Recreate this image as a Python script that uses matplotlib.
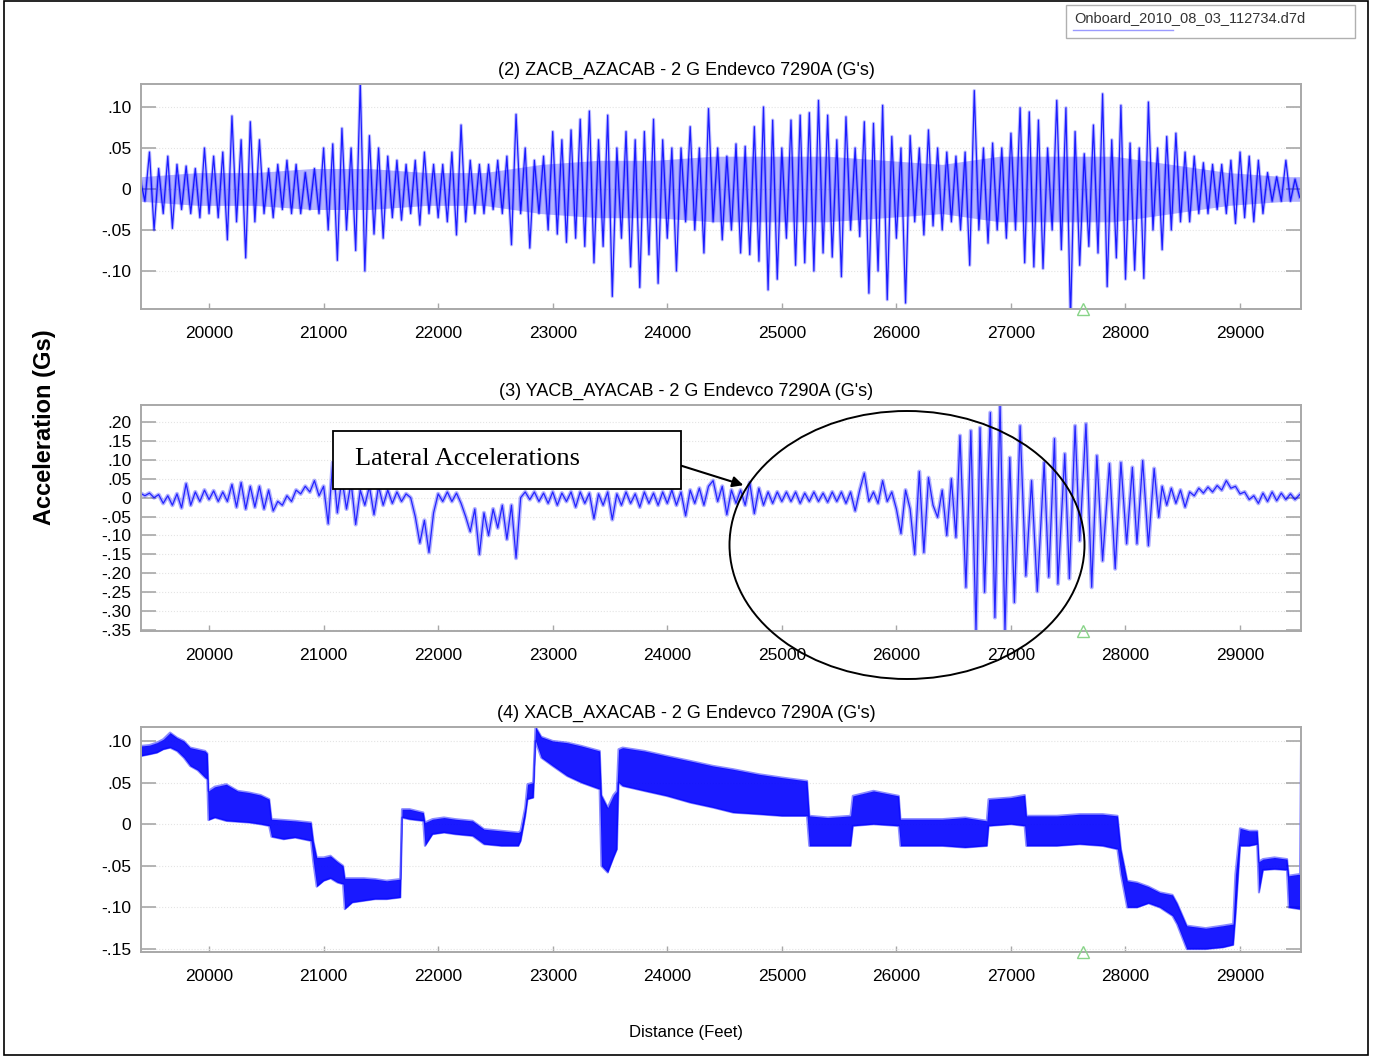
import numpy as np
import matplotlib.pyplot as plt
from matplotlib.patches import Rectangle, Ellipse
from matplotlib.lines import Line2D
from matplotlib.ticker import FuncFormatter
import matplotlib.transforms as mtransforms

plt.rcParams['font.family'] = ['Liberation Sans', 'DejaVu Sans']

# ---- data ----
dist_ticks = [20000, 21000, 22000, 23000, 24000, 25000, 26000, 27000, 28000, 29000]
x_lim = (19406, 29532)
marker_ft = 27630
legend_name = 'Onboard_2010_08_03_112734.d7d'

titles = ["(2) ZACB_AZACAB - 2 G Endevco 7290A (G's)",
          "(3) YACB_AYACAB - 2 G Endevco 7290A (G's)",
          "(4) XACB_AXACAB - 2 G Endevco 7290A (G's)"]

# (2) vertical: peaks every 40 ft starting at 19400
z_start, z_step = 19400, 40
z_g = [
    0.012, -0.015, 0.045, -0.05, 0.025, -0.03, 0.04, -0.048, 0.03, -0.025, 0.028, -0.03, 0.025,
    -0.035, 0.05, -0.03, 0.04, -0.035, 0.045, -0.062, 0.089, -0.04, 0.06, -0.084, 0.082,
    -0.04, 0.06, -0.03, 0.025, -0.035, 0.03, -0.025, 0.035, -0.03, 0.03, -0.03, 0.02, -0.025,
    0.025, -0.03, 0.05, -0.05, 0.055, -0.087, 0.074, -0.05, 0.05, -0.075, 0.13, -0.10,
    0.065, -0.055, 0.05, -0.06, 0.04, -0.035, 0.035, -0.038, 0.03, -0.03, 0.035, -0.044, 0.045,
    -0.03, 0.03, -0.035, 0.03, -0.04, 0.045, -0.056, 0.078, -0.04, 0.035, -0.03, 0.03,
    -0.03, 0.03, -0.025, 0.035, -0.03, 0.04, -0.068, 0.091, -0.03, 0.05, -0.072, 0.035, -0.03,
    0.04, -0.05, 0.07, -0.055, 0.06, -0.065, 0.072, -0.06, 0.085, -0.07, 0.095, -0.09,
    0.06, -0.07, 0.09, -0.131, 0.05, -0.06, 0.07, -0.095, 0.06, -0.12, 0.07, -0.08, 0.085,
    -0.115, 0.06, -0.06, 0.05, -0.1, 0.05, -0.04, 0.076, -0.05, 0.05, -0.078, 0.098,
    -0.04, 0.05, -0.062, 0.04, -0.05, 0.055, -0.078, 0.052, -0.08, 0.076, -0.088, 0.10, -0.123,
    0.084, -0.11, 0.05, -0.06, 0.084, -0.093, 0.09, -0.09, 0.093, -0.1, 0.108, -0.078,
    0.09, -0.083, 0.06, -0.107, 0.088, -0.05, 0.05, -0.058, 0.082, -0.127, 0.08, -0.1, 0.102,
    -0.135, 0.064, -0.06, 0.05, -0.139, 0.065, -0.04, 0.05, -0.056, 0.072, -0.045, 0.05,
    -0.05, 0.045, -0.04, 0.04, -0.05, 0.045, -0.093, 0.12, -0.05, 0.05, -0.066, 0.056, -0.05,
    0.05, -0.06, 0.068, -0.05, 0.099, -0.09, 0.094, -0.095, 0.084, -0.097, 0.05, -0.05,
    0.108, -0.074, 0.099, -0.16, 0.07, -0.093, 0.043, -0.07, 0.078, -0.078, 0.116, -0.119, 0.06,
    -0.084, 0.102, -0.11, 0.056, -0.099, 0.05, -0.109, 0.106, -0.05, 0.05, -0.074, 0.064,
    -0.05, 0.068, -0.04, 0.045, -0.04, 0.04, -0.03, 0.032, -0.03, 0.03, -0.025, 0.03, -0.03,
    0.035, -0.042, 0.045, -0.035, 0.04, -0.04, 0.035, -0.03, 0.02, -0.015, 0.015, -0.015,
    0.035, -0.015, 0.012, -0.01,
]
# thickness of the dense dark core around zero, every 500 ft
z_core_ft = [19406, 19900, 20400, 20900, 21400, 21900, 22400, 22900, 23400, 23900, 24400,
             24900, 25400, 25900, 26400, 26900, 27400, 27900, 28400, 28900, 29400, 29532]
z_core_g = [0.015, 0.02, 0.02, 0.025, 0.025, 0.02, 0.02, 0.03, 0.035, 0.035, 0.04,
            0.04, 0.04, 0.035, 0.03, 0.04, 0.04, 0.04, 0.03, 0.02, 0.015, 0.015]

# (3) lateral: calm part every 40 ft, the burst at its own peaks, calm tail every 40 ft
lat_a_start, lat_step = 19400, 40
lat_calm_a = [
    0.012, 0.005, 0.012, 0.0, 0.008, -0.015, 0.005, -0.02, 0.01, -0.027, 0.037, -0.02, 0.015,
    -0.01, 0.02, -0.005, 0.018, -0.01, 0.015, -0.01, 0.035, -0.025, 0.04, -0.03, 0.03,
    -0.025, 0.03, -0.03, 0.02, -0.035, -0.01, -0.02, 0.005, -0.01, 0.02, 0.01, 0.03, 0.015,
    0.045, 0.005, 0.03, -0.069, 0.093, -0.04, 0.05, -0.03, 0.04, -0.071, 0.02, -0.02,
    0.03, -0.045, 0.03, -0.02, 0.02, -0.015, 0.015, -0.01, 0.01, 0.0, -0.05, -0.12, -0.06,
    -0.145, -0.04, 0.01, -0.01, 0.015, -0.01, 0.012, -0.015, -0.05, -0.09, -0.03, -0.15,
    -0.04, -0.1, -0.03, -0.08, -0.02, -0.11, -0.02, -0.16, 0.0, 0.015, -0.005, 0.015, -0.01,
    0.012, -0.015, 0.015, -0.02, 0.012, -0.01, 0.015, -0.025, 0.015, -0.015, 0.012, -0.056,
    0.01, -0.02, 0.015, -0.058, 0.01, -0.02, 0.015, -0.015, 0.01, -0.025, 0.015, -0.015, 0.012,
    -0.02, 0.015, -0.015, 0.02, -0.02, 0.015, -0.048, 0.02, -0.015, 0.025, -0.02, 0.03,
    0.045, -0.01, 0.03, -0.045, 0.02, -0.015, 0.02, -0.02, 0.04, -0.042, 0.025, -0.02, 0.015,
    -0.015, 0.015, -0.01, 0.015, -0.01, 0.015, -0.015, 0.012, -0.01, 0.015, -0.01, 0.012,
    -0.012, 0.015, -0.01, 0.015, -0.015, 0.015, -0.035, 0.02, 0.065, -0.01, 0.015, -0.015, 0.045,
    -0.01, 0.015, -0.03, -0.095, 0.02, -0.03, -0.15, 0.069, -0.145, 0.053, -0.02, -0.052,
    0.02, -0.1, 0.05, -0.105,
]
lat_burst_ft = [26555, 26607, 26650, 26695, 26730, 26770, 26820, 26860, 26905, 26948,
                26990, 27030, 27080, 27130, 27180, 27230, 27290, 27330, 27380, 27410,
                27470, 27510, 27560, 27600, 27655, 27705, 27750, 27800, 27860, 27910,
                27960, 28010, 28060, 28100, 28150, 28200, 28250, 28290]
lat_burst_g = [0.164, -0.237, 0.177, -0.352, 0.185, -0.25, 0.225, -0.317, 0.245, -0.352,
               0.106, -0.277, 0.19, -0.207, 0.045, -0.248, 0.093, -0.21, 0.156, -0.228,
               0.116, -0.214, 0.19, -0.114, 0.195, -0.237, 0.111, -0.167, 0.09, -0.188,
               0.093, -0.122, 0.08, -0.122, 0.098, -0.127, 0.077, -0.052]
lat_b_start = 28320
lat_calm_b = [
    0.03, -0.02, 0.025, -0.015, 0.02, -0.025, 0.015, 0.005, 0.025, 0.012, 0.028, 0.015, 0.032,
    0.02, 0.045, 0.025, 0.03, 0.01, 0.015, -0.005, 0.005, -0.015, 0.012, -0.01, 0.015,
    -0.008, 0.012, -0.005, 0.01, -0.005, 0.008,
]

# (4) longitudinal: band edges at break points
long_ft = [19406, 19480, 19545, 19600, 19660, 19720, 19780, 19835, 19900, 19965, 19985,
           19995, 20050, 20150, 20250, 20350, 20450, 20525, 20545, 20650, 20750, 20890,
           20910, 20940, 21000, 21060, 21120, 21170, 21185, 21250, 21350, 21450, 21550,
           21670, 21685, 21750, 21870, 21885, 21950, 22050, 22150, 22300, 22400, 22550,
           22700, 22720, 22760, 22780, 22830, 22850, 22900, 23000, 23125, 23250, 23410,
           23425, 23480, 23530, 23560, 23575, 23610, 23800, 23995, 24200, 24400, 24575,
           24800, 25000, 25220, 25240, 25400, 25600, 25620, 25800, 26020, 26035, 26200,
           26400, 26600, 26790, 26805, 27000, 27120, 27135, 27400, 27600, 27800, 27930,
           27960, 28015, 28100, 28200, 28300, 28410, 28450, 28535, 28700, 28850, 28940,
           28960, 29000, 29080, 29150, 29165, 29200, 29300, 29410, 29425, 29520]
long_lo = [0.082, 0.084, 0.086, 0.09, 0.092, 0.088, 0.08, 0.07, 0.065, 0.056, 0.054,
           0.005, 0.008, 0.004, 0.003, 0.002, 0.0, -0.002, -0.015, -0.018, -0.016, -0.02,
           -0.045, -0.075, -0.068, -0.065, -0.07, -0.072, -0.102, -0.094, -0.092, -0.09, -0.09,
           -0.088, 0.008, 0.006, 0.004, -0.026, -0.012, -0.01, -0.012, -0.014, -0.024, -0.026,
           -0.026, -0.02, 0.01, 0.03, 0.032, 0.1, 0.08, 0.07, 0.058, 0.05, 0.042,
           -0.05, -0.058, -0.04, -0.03, 0.05, 0.046, 0.04, 0.034, 0.026, 0.02, 0.014,
           0.012, 0.01, 0.01, -0.026, -0.026, -0.026, -0.002, 0.0, -0.002, -0.026, -0.026,
           -0.026, -0.028, -0.026, -0.002, 0.0, -0.002, -0.026, -0.026, -0.024, -0.026, -0.03,
           -0.06, -0.1, -0.1, -0.095, -0.1, -0.11, -0.12, -0.15, -0.15, -0.148, -0.145,
           -0.11, -0.026, -0.026, -0.024, -0.082, -0.055, -0.054, -0.055, -0.1, -0.102]
long_hi = [0.094, 0.095, 0.098, 0.102, 0.11, 0.104, 0.1, 0.092, 0.09, 0.088, 0.085,
           0.04, 0.045, 0.048, 0.04, 0.038, 0.035, 0.03, 0.006, 0.005, 0.004, 0.002,
           -0.02, -0.04, -0.04, -0.038, -0.045, -0.05, -0.065, -0.065, -0.065, -0.066, -0.068,
           -0.066, 0.018, 0.018, 0.014, 0.002, 0.006, 0.008, 0.006, 0.004, -0.006, -0.008,
           -0.01, -0.008, 0.02, 0.048, 0.05, 0.117, 0.105, 0.1, 0.098, 0.094, 0.088,
           0.035, 0.02, 0.035, 0.04, 0.09, 0.092, 0.088, 0.082, 0.076, 0.07, 0.066,
           0.06, 0.056, 0.052, 0.01, 0.008, 0.01, 0.034, 0.04, 0.034, 0.006, 0.006,
           0.006, 0.008, 0.004, 0.03, 0.032, 0.035, 0.01, 0.01, 0.012, 0.012, 0.01,
           -0.03, -0.068, -0.07, -0.075, -0.082, -0.085, -0.095, -0.122, -0.125, -0.122, -0.12,
           -0.06, -0.005, -0.008, -0.008, -0.045, -0.042, -0.04, -0.042, -0.062, -0.06]
long_tail_ft = [29520, 29528]
long_tail_g = [-0.06, 0.094]

# ---- figure ----
W, H = 1373, 1061
fig = plt.figure(figsize=(W / 100, H / 100), dpi=100)


def fx(px):
    return px / W


def fy(py):
    return 1 - py / H


def gfmt(v, pos):
    if abs(v) < 1e-9:
        return '0'
    return f'{v:.2f}'.replace('0.', '.')


blue = '#0000ff'
spine_grey = '#a8a8a8'

panels = [
    dict(top=84, bottom=309, ylim=(-0.1463, 0.128), yticks=[0.10, 0.05, 0, -0.05, -0.10]),
    dict(top=405, bottom=631, ylim=(-0.3526, 0.245),
         yticks=[0.20, 0.15, 0.10, 0.05, 0, -0.05, -0.10, -0.15, -0.20, -0.25, -0.30, -0.35]),
    dict(top=727, bottom=952, ylim=(-0.1536, 0.1168), yticks=[0.10, 0.05, 0, -0.05, -0.10, -0.15]),
]

axes = []
for i, p in enumerate(panels):
    ax = fig.add_axes([fx(141), fy(p['bottom']), fx(1301) - fx(141), (p['bottom'] - p['top']) / H])
    ax.set_xlim(*x_lim)
    ax.set_ylim(*p['ylim'])
    ax.set_xticks(dist_ticks)
    ax.set_yticks(p['yticks'])
    ax.yaxis.set_major_formatter(FuncFormatter(gfmt))
    ax.tick_params(axis='y', direction='in', length=11, width=1.2, color=spine_grey,
                   labelsize=12.5, pad=7, right=True)
    ax.tick_params(axis='x', direction='in', length=4, width=1.0, color=spine_grey,
                   labelsize=12.5, pad=12)
    for s in ax.spines.values():
        s.set_color(spine_grey)
        s.set_linewidth(1.4)
    ax.grid(axis='y', color='#e4e4e4', linestyle=':', linewidth=0.8)
    ax.set_axisbelow(True)
    fig.text(fx(686), fy(p['top'] - 14), titles[i], fontsize=13, ha='center', va='center')
    # green distance marker on the bottom spine
    trans = mtransforms.blended_transform_factory(ax.transData, ax.transAxes)
    ax.plot([marker_ft], [0], marker='^', markersize=9, markerfacecolor='none',
            markeredgecolor='#88d488', markeredgewidth=1.0, transform=trans,
            clip_on=False, zorder=5)
    axes.append(ax)

# (2)
z_ft = z_start + z_step * np.arange(len(z_g))
z_core = np.array(z_core_g)
axes[0].fill_between(z_core_ft, -z_core, z_core, color=blue, alpha=0.3, lw=0)
axes[0].plot(z_ft, z_g, color=blue, lw=2.4, alpha=0.25)
axes[0].plot(z_ft, z_g, color=blue, lw=0.9, alpha=0.85)

# (3)
lat_ft = np.concatenate([lat_a_start + lat_step * np.arange(len(lat_calm_a)),
                         lat_burst_ft,
                         lat_b_start + lat_step * np.arange(len(lat_calm_b))])
lat_g = np.concatenate([lat_calm_a, lat_burst_g, lat_calm_b])
axes[1].plot(lat_ft, lat_g, color=blue, lw=3.0, alpha=0.3)
axes[1].plot(lat_ft, lat_g, color=blue, lw=0.9, alpha=0.8)

# (4)
axes[2].fill_between(long_ft, long_lo, long_hi, color=blue, alpha=0.9, lw=0)
for edge in (long_hi, long_lo):
    axes[2].plot(long_ft, edge, color=blue, lw=1.6, alpha=0.45)
axes[2].plot(long_tail_ft, long_tail_g, color='#8080ff', lw=0.8)

# labels
fig.text(fx(45), fy(427), 'Acceleration (Gs)', rotation=90, fontsize=17,
         fontweight='bold', ha='center', va='center')
fig.text(fx(686), fy(1032), 'Distance (Feet)', fontsize=12, ha='center', va='center')

# legend box in the corner
fig.add_artist(Rectangle((fx(1066), fy(38)), fx(1355) - fx(1066), (38 - 5) / H,
                         transform=fig.transFigure, fill=False, edgecolor='#b0b0b0', lw=1))
fig.text(fx(1074), fy(18), legend_name, fontsize=10.5, color='#333333', ha='left', va='center')
fig.add_artist(Line2D([fx(1073), fx(1173)], [fy(30), fy(30)], transform=fig.transFigure,
                      color='#9a9aff', lw=1))

# annotation
fig.text(fx(355), fy(459), 'Lateral Accelerations', fontsize=19, family='Liberation Serif',
         ha='left', va='center', zorder=10)
fig.add_artist(Rectangle((fx(333), fy(489)), fx(681) - fx(333), (489 - 431) / H,
                         transform=fig.transFigure, facecolor='white', edgecolor='black',
                         lw=1.3, zorder=9))
fig.add_artist(Ellipse((fx(907), fy(545)), fx(1085) - fx(730), (679 - 411) / H,
                       transform=fig.transFigure, fill=False, edgecolor='black', lw=1.4, zorder=9))
plt.annotate('', xy=(fx(746), fy(486)), xytext=(fx(679), fy(465)),
             xycoords='figure fraction', textcoords='figure fraction',
             arrowprops=dict(arrowstyle='-|>', color='black', lw=1.5, mutation_scale=16),
             zorder=11)

# outer frame
fig.add_artist(Rectangle((fx(4), fy(1055)), fx(1368) - fx(4), (1055 - 1) / H,
                         transform=fig.transFigure, fill=False, edgecolor='black', lw=1.2))

fig.savefig('out.png', dpi=100)
